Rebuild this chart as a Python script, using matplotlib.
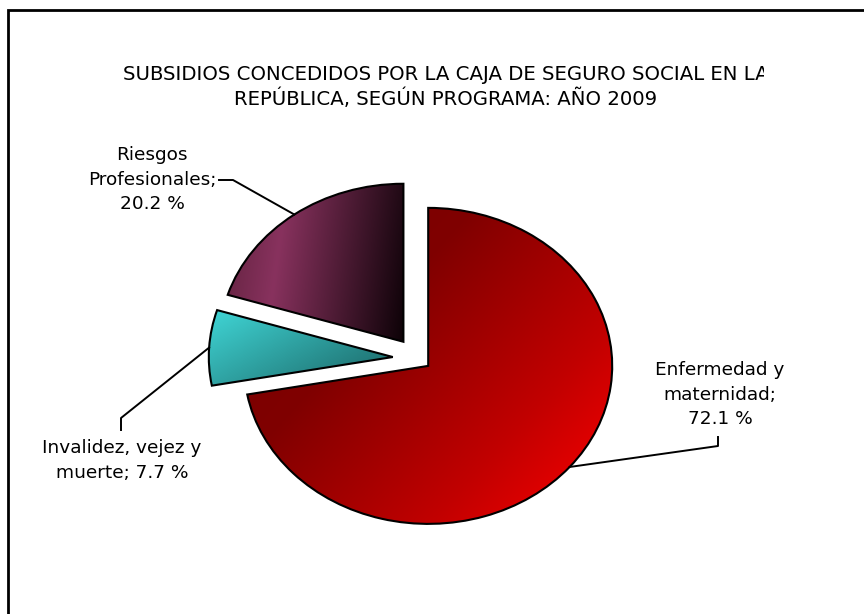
import numpy as np
import matplotlib
matplotlib.use('Agg')
import matplotlib.pyplot as plt
from matplotlib.colors import LinearSegmentedColormap
from matplotlib.patches import Rectangle
from matplotlib.transforms import Bbox, TransformedBbox

# data
categories = ['Enfermedad y\nmaternidad', 'Invalidez, vejez y\nmuerte', 'Riesgos\nProfesionales']
values = [72.1, 7.7, 20.2]
label_sep = ['\n', ' ', '\n']
title = ('SUBSIDIOS CONCEDIDOS POR LA CAJA DE SEGURO SOCIAL EN LA\n'
         'REPÚBLICA, SEGÚN PROGRAMA: AÑO 2009')

explode = [0.075, 0.135, 0.13]
# gradient stops and direction (degrees) for each slice
grad_stops = [
    [(0.0, '#760000'), (0.35, '#800000'), (0.72, '#c20000'), (1.0, '#ff0000')],
    [(0.0, '#40d6d6'), (1.0, '#1a6262')],
    [(0.0, '#62223f'), (0.3, '#88325e'), (1.0, '#0d0207')],
]
grad_angle = [-42, -62, -8]

W, H = 864, 614
CX, CY = 417.6, 358.3   # pie centre, pixels from top-left
RX, RY = 184.0, 158.0   # pie radius in pixels (picture is stretched)


def px(x, y):
    # pixel position -> data position
    return (x - CX) / RX, (CY - y) / RY


fig = plt.figure(figsize=(W / 100, H / 100), dpi=100)
ax = fig.add_axes([0, 0, 1, 1])

wedges, _ = ax.pie(values, explode=explode, startangle=90, counterclock=False,
                   radius=1.0, center=(0, 0),
                   wedgeprops=dict(facecolor='none', edgecolor='black', linewidth=1.5))

for w, stops, ang in zip(wedges, grad_stops, grad_angle):
    w.set_zorder(3)
    v = w.get_path().vertices
    x0, y0 = v.min(axis=0)
    x1, y1 = v.max(axis=0)
    X, Y = np.meshgrid(np.linspace(x0, x1, 300), np.linspace(y0, y1, 300))
    a = np.radians(ang)
    proj = X * RX * np.cos(a) + Y * RY * np.sin(a)
    t = (proj - proj.min()) / (proj.max() - proj.min())
    cmap = LinearSegmentedColormap.from_list('g', stops)
    im = ax.imshow(cmap(t), extent=(x0, x1, y0, y1), origin='lower',
                   interpolation='bilinear', aspect='auto', zorder=2)
    im.set_clip_path(w)

ax.set_aspect('auto')
ax.set_xlim((0 - CX) / RX, (W - CX) / RX)
ax.set_ylim((CY - H) / RY, CY / RY)
ax.axis('off')

# labels with leader lines
label_pos = [(720, 361), (122, 439), (152, 146)]
leader_pts = [[(718, 446), (718, 437)],
              [(121, 418), (121, 430)],
              [(233, 180), (219, 180)]]
for w, cat, val, sep, lp, pts in zip(wedges, categories, values, label_sep,
                                    label_pos, leader_pts):
    mid = np.radians((w.theta1 + w.theta2) / 2)
    sx = w.center[0] + np.cos(mid)
    sy = w.center[1] + np.sin(mid)
    xs = [sx] + [px(*p)[0] for p in pts]
    ys = [sy] + [px(*p)[1] for p in pts]
    ax.plot(xs, ys, color='black', lw=1.4, zorder=4)
    tx, ty = px(*lp)
    ax.text(tx, ty, f'{cat};{sep}{val} %', ha='center', va='top',
            fontsize=13.3, linespacing=1.47, color='black',
            family='DejaVu Sans')

t = fig.text(446 / W, 1 - 87 / H, title, ha='center', va='center',
             fontsize=14.2, linespacing=1.3, family='DejaVu Sans')
t.set_clip_box(TransformedBbox(Bbox([[0, 0], [764 / W, 1]]), fig.transFigure))
t.set_clip_on(True)

# outer frame
fig.patches.append(Rectangle((8 / W, -0.1), 2, 1.1 - 10 / H, transform=fig.transFigure,
                             fill=False, edgecolor='black', linewidth=2))

fig.savefig('out.png', dpi=100)
